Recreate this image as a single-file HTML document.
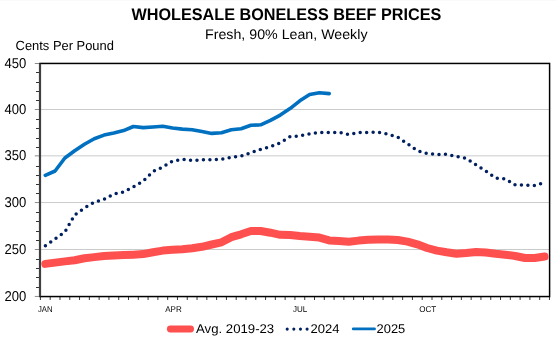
<!DOCTYPE html>
<html><head><meta charset="utf-8"><style>
html,body{margin:0;padding:0;background:#fff;width:556px;height:341px;overflow:hidden;font-family:"Liberation Sans", sans-serif;}
svg{display:block} text{text-rendering:geometricPrecision} .g{will-change:transform}
</style></head><body>
<svg width="556" height="341" viewBox="0 0 556 341">
<rect width="556" height="341" fill="#fff"/>
<rect x="0" y="0" width="556" height="1" fill="#FAFAFA"/>
<g class="g" opacity="0.999">
<line x1="40.0" y1="249.50" x2="549.6" y2="249.50" stroke="#CBCBCB" stroke-width="1"/>
<line x1="40.0" y1="202.55" x2="549.6" y2="202.55" stroke="#CBCBCB" stroke-width="1"/>
<line x1="40.0" y1="155.85" x2="549.6" y2="155.85" stroke="#CBCBCB" stroke-width="1"/>
<line x1="40.0" y1="109.50" x2="549.6" y2="109.50" stroke="#CBCBCB" stroke-width="1"/>
<line x1="34.8" y1="296.45" x2="40.0" y2="296.45" stroke="#8C8C8C" stroke-width="1"/>
<line x1="36" y1="287.50" x2="40.0" y2="287.50" stroke="#333" stroke-width="1"/>
<line x1="36" y1="277.50" x2="40.0" y2="277.50" stroke="#333" stroke-width="1"/>
<line x1="36" y1="268.50" x2="40.0" y2="268.50" stroke="#333" stroke-width="1"/>
<line x1="36" y1="259.50" x2="40.0" y2="259.50" stroke="#333" stroke-width="1"/>
<line x1="34.8" y1="249.50" x2="40.0" y2="249.50" stroke="#8C8C8C" stroke-width="1"/>
<line x1="36" y1="240.50" x2="40.0" y2="240.50" stroke="#333" stroke-width="1"/>
<line x1="36" y1="231.50" x2="40.0" y2="231.50" stroke="#333" stroke-width="1"/>
<line x1="36" y1="221.50" x2="40.0" y2="221.50" stroke="#333" stroke-width="1"/>
<line x1="36" y1="212.50" x2="40.0" y2="212.50" stroke="#333" stroke-width="1"/>
<line x1="34.8" y1="202.55" x2="40.0" y2="202.55" stroke="#8C8C8C" stroke-width="1"/>
<line x1="36" y1="193.50" x2="40.0" y2="193.50" stroke="#333" stroke-width="1"/>
<line x1="36" y1="184.50" x2="40.0" y2="184.50" stroke="#333" stroke-width="1"/>
<line x1="36" y1="175.50" x2="40.0" y2="175.50" stroke="#333" stroke-width="1"/>
<line x1="36" y1="166.50" x2="40.0" y2="166.50" stroke="#333" stroke-width="1"/>
<line x1="34.8" y1="155.85" x2="40.0" y2="155.85" stroke="#8C8C8C" stroke-width="1"/>
<line x1="36" y1="147.50" x2="40.0" y2="147.50" stroke="#333" stroke-width="1"/>
<line x1="36" y1="138.50" x2="40.0" y2="138.50" stroke="#333" stroke-width="1"/>
<line x1="36" y1="128.50" x2="40.0" y2="128.50" stroke="#333" stroke-width="1"/>
<line x1="36" y1="119.50" x2="40.0" y2="119.50" stroke="#333" stroke-width="1"/>
<line x1="34.8" y1="109.50" x2="40.0" y2="109.50" stroke="#8C8C8C" stroke-width="1"/>
<line x1="36" y1="100.50" x2="40.0" y2="100.50" stroke="#333" stroke-width="1"/>
<line x1="36" y1="91.50" x2="40.0" y2="91.50" stroke="#333" stroke-width="1"/>
<line x1="36" y1="82.50" x2="40.0" y2="82.50" stroke="#333" stroke-width="1"/>
<line x1="36" y1="72.50" x2="40.0" y2="72.50" stroke="#333" stroke-width="1"/>
<line x1="34.8" y1="63.50" x2="40.0" y2="63.50" stroke="#8C8C8C" stroke-width="1"/>
<line x1="40.40" y1="296.55" x2="40.40" y2="300" stroke="#3a3a3a" stroke-width="1"/>
<line x1="50.19" y1="296.55" x2="50.19" y2="300" stroke="#3a3a3a" stroke-width="1"/>
<line x1="59.98" y1="296.55" x2="59.98" y2="300" stroke="#3a3a3a" stroke-width="1"/>
<line x1="69.77" y1="296.55" x2="69.77" y2="300" stroke="#3a3a3a" stroke-width="1"/>
<line x1="79.56" y1="296.55" x2="79.56" y2="300" stroke="#3a3a3a" stroke-width="1"/>
<line x1="89.35" y1="296.55" x2="89.35" y2="300" stroke="#3a3a3a" stroke-width="1"/>
<line x1="99.14" y1="296.55" x2="99.14" y2="300" stroke="#3a3a3a" stroke-width="1"/>
<line x1="108.93" y1="296.55" x2="108.93" y2="300" stroke="#3a3a3a" stroke-width="1"/>
<line x1="118.72" y1="296.55" x2="118.72" y2="300" stroke="#3a3a3a" stroke-width="1"/>
<line x1="128.51" y1="296.55" x2="128.51" y2="300" stroke="#3a3a3a" stroke-width="1"/>
<line x1="138.30" y1="296.55" x2="138.30" y2="300" stroke="#3a3a3a" stroke-width="1"/>
<line x1="148.09" y1="296.55" x2="148.09" y2="300" stroke="#3a3a3a" stroke-width="1"/>
<line x1="157.88" y1="296.55" x2="157.88" y2="300" stroke="#3a3a3a" stroke-width="1"/>
<line x1="167.67" y1="296.55" x2="167.67" y2="300" stroke="#3a3a3a" stroke-width="1"/>
<line x1="177.46" y1="296.55" x2="177.46" y2="300" stroke="#3a3a3a" stroke-width="1"/>
<line x1="187.25" y1="296.55" x2="187.25" y2="300" stroke="#3a3a3a" stroke-width="1"/>
<line x1="197.04" y1="296.55" x2="197.04" y2="300" stroke="#3a3a3a" stroke-width="1"/>
<line x1="206.83" y1="296.55" x2="206.83" y2="300" stroke="#3a3a3a" stroke-width="1"/>
<line x1="216.62" y1="296.55" x2="216.62" y2="300" stroke="#3a3a3a" stroke-width="1"/>
<line x1="226.41" y1="296.55" x2="226.41" y2="300" stroke="#3a3a3a" stroke-width="1"/>
<line x1="236.20" y1="296.55" x2="236.20" y2="300" stroke="#3a3a3a" stroke-width="1"/>
<line x1="245.99" y1="296.55" x2="245.99" y2="300" stroke="#3a3a3a" stroke-width="1"/>
<line x1="255.78" y1="296.55" x2="255.78" y2="300" stroke="#3a3a3a" stroke-width="1"/>
<line x1="265.57" y1="296.55" x2="265.57" y2="300" stroke="#3a3a3a" stroke-width="1"/>
<line x1="275.36" y1="296.55" x2="275.36" y2="300" stroke="#3a3a3a" stroke-width="1"/>
<line x1="285.15" y1="296.55" x2="285.15" y2="300" stroke="#3a3a3a" stroke-width="1"/>
<line x1="294.94" y1="296.55" x2="294.94" y2="300" stroke="#3a3a3a" stroke-width="1"/>
<line x1="304.73" y1="296.55" x2="304.73" y2="300" stroke="#3a3a3a" stroke-width="1"/>
<line x1="314.52" y1="296.55" x2="314.52" y2="300" stroke="#3a3a3a" stroke-width="1"/>
<line x1="324.31" y1="296.55" x2="324.31" y2="300" stroke="#3a3a3a" stroke-width="1"/>
<line x1="334.10" y1="296.55" x2="334.10" y2="300" stroke="#3a3a3a" stroke-width="1"/>
<line x1="343.89" y1="296.55" x2="343.89" y2="300" stroke="#3a3a3a" stroke-width="1"/>
<line x1="353.68" y1="296.55" x2="353.68" y2="300" stroke="#3a3a3a" stroke-width="1"/>
<line x1="363.47" y1="296.55" x2="363.47" y2="300" stroke="#3a3a3a" stroke-width="1"/>
<line x1="373.26" y1="296.55" x2="373.26" y2="300" stroke="#3a3a3a" stroke-width="1"/>
<line x1="383.05" y1="296.55" x2="383.05" y2="300" stroke="#3a3a3a" stroke-width="1"/>
<line x1="392.84" y1="296.55" x2="392.84" y2="300" stroke="#3a3a3a" stroke-width="1"/>
<line x1="402.63" y1="296.55" x2="402.63" y2="300" stroke="#3a3a3a" stroke-width="1"/>
<line x1="412.42" y1="296.55" x2="412.42" y2="300" stroke="#3a3a3a" stroke-width="1"/>
<line x1="422.21" y1="296.55" x2="422.21" y2="300" stroke="#3a3a3a" stroke-width="1"/>
<line x1="432.00" y1="296.55" x2="432.00" y2="300" stroke="#3a3a3a" stroke-width="1"/>
<line x1="441.79" y1="296.55" x2="441.79" y2="300" stroke="#3a3a3a" stroke-width="1"/>
<line x1="451.58" y1="296.55" x2="451.58" y2="300" stroke="#3a3a3a" stroke-width="1"/>
<line x1="461.37" y1="296.55" x2="461.37" y2="300" stroke="#3a3a3a" stroke-width="1"/>
<line x1="471.16" y1="296.55" x2="471.16" y2="300" stroke="#3a3a3a" stroke-width="1"/>
<line x1="480.95" y1="296.55" x2="480.95" y2="300" stroke="#3a3a3a" stroke-width="1"/>
<line x1="490.74" y1="296.55" x2="490.74" y2="300" stroke="#3a3a3a" stroke-width="1"/>
<line x1="500.53" y1="296.55" x2="500.53" y2="300" stroke="#3a3a3a" stroke-width="1"/>
<line x1="510.32" y1="296.55" x2="510.32" y2="300" stroke="#3a3a3a" stroke-width="1"/>
<line x1="520.11" y1="296.55" x2="520.11" y2="300" stroke="#3a3a3a" stroke-width="1"/>
<line x1="529.90" y1="296.55" x2="529.90" y2="300" stroke="#3a3a3a" stroke-width="1"/>
<line x1="539.69" y1="296.55" x2="539.69" y2="300" stroke="#3a3a3a" stroke-width="1"/>
<line x1="549.48" y1="296.55" x2="549.48" y2="300" stroke="#3a3a3a" stroke-width="1"/>
<rect x="40.0" y="63.45" width="509.60" height="233.10" fill="none" stroke="#000" stroke-width="1.5"/>
<line x1="40.0" y1="63.65" x2="40.0" y2="296.35" stroke="#404040" stroke-width="2.2"/>
<polyline points="45.30,263.90 55.08,262.60 64.88,261.40 74.66,260.20 84.45,258.30 94.25,257.10 104.03,256.10 113.82,255.50 123.61,255.10 133.41,254.70 143.19,254.10 152.98,252.20 162.77,250.60 172.56,249.80 182.35,249.20 192.14,248.30 201.94,246.80 211.72,244.50 221.51,242.30 231.30,237.20 241.09,234.30 250.88,231.00 260.67,231.00 270.46,232.70 280.25,234.80 290.04,235.00 299.83,236.00 309.62,236.70 319.41,237.60 329.20,240.40 338.99,241.00 348.78,241.80 358.57,240.60 368.36,239.80 378.15,239.50 387.94,239.40 397.73,240.00 407.52,241.60 417.31,244.30 427.10,248.00 436.89,250.60 446.68,252.30 456.47,253.70 466.26,253.00 476.05,252.00 485.84,252.50 495.63,253.80 505.42,254.70 515.21,256.00 525.00,258.00 534.79,258.00 544.58,256.50" fill="none" stroke="#FF5050" stroke-width="8" stroke-linejoin="round" stroke-linecap="round"/>
<polyline points="45.30,245.80 55.08,239.00 64.88,232.00 74.66,215.00 84.45,208.00 94.25,202.30 104.03,199.30 113.82,194.00 123.61,192.00 133.41,186.80 143.19,181.00 152.98,171.50 162.77,167.00 172.56,161.00 182.35,159.40 192.14,160.50 201.94,159.80 211.72,159.60 221.51,159.30 231.30,157.30 241.09,156.00 250.88,152.70 260.67,149.40 270.46,146.70 280.25,142.80 290.04,136.70 299.83,135.80 309.62,134.00 319.41,132.40 329.20,132.50 338.99,132.30 348.78,134.50 358.57,132.60 368.36,132.40 378.15,132.30 387.94,134.20 397.73,137.20 407.52,143.80 417.31,150.70 427.10,153.50 436.89,154.60 446.68,154.30 456.47,156.50 466.26,158.30 476.05,164.80 485.84,171.00 495.63,178.00 505.42,179.00 515.21,185.00 525.00,185.00 534.79,185.50 544.58,182.50" fill="none" stroke="#002060" stroke-width="3.5" stroke-dasharray="0 6.47" stroke-dashoffset="-0.12" stroke-linejoin="round" stroke-linecap="round"/>
<polyline points="45.30,175.30 55.08,171.00 64.88,158.00 74.66,150.70 84.45,144.20 94.25,138.70 104.03,135.10 113.82,133.00 123.61,130.60 133.41,126.50 143.19,127.60 152.98,127.00 162.77,126.20 172.56,128.00 182.35,129.10 192.14,129.70 201.94,131.60 211.72,133.40 221.51,132.70 231.30,129.80 241.09,128.70 250.88,125.30 260.67,124.80 270.46,120.40 280.25,115.10 290.04,108.60 299.83,100.80 309.62,94.60 319.41,92.70 329.20,93.60" fill="none" stroke="#0070C0" stroke-width="3.6" stroke-linejoin="round" stroke-linecap="round"/>
<text x="131.4" y="20.1" font-family="Liberation Sans, sans-serif" font-size="16.9" font-weight="bold" fill="#000" text-anchor="start" textLength="310.0" lengthAdjust="spacingAndGlyphs">WHOLESALE BONELESS BEEF PRICES</text>
<text x="205.0" y="38.8" font-family="Liberation Sans, sans-serif" font-size="13.8" font-weight="normal" fill="#000" text-anchor="start" textLength="162.5" lengthAdjust="spacingAndGlyphs">Fresh, 90% Lean, Weekly</text>
<text x="15.6" y="50.4" font-family="Liberation Sans, sans-serif" font-size="13.2" font-weight="normal" fill="#000" text-anchor="start" textLength="98.3" lengthAdjust="spacingAndGlyphs">Cents Per Pound</text>
<text x="4.5" y="300.95" font-family="Liberation Sans, sans-serif" font-size="14.2" font-weight="normal" fill="#000" text-anchor="start" textLength="21.8" lengthAdjust="spacingAndGlyphs">200</text>
<text x="4.5" y="254.00" font-family="Liberation Sans, sans-serif" font-size="14.2" font-weight="normal" fill="#000" text-anchor="start" textLength="21.8" lengthAdjust="spacingAndGlyphs">250</text>
<text x="4.5" y="207.05" font-family="Liberation Sans, sans-serif" font-size="14.2" font-weight="normal" fill="#000" text-anchor="start" textLength="21.8" lengthAdjust="spacingAndGlyphs">300</text>
<text x="4.5" y="160.35" font-family="Liberation Sans, sans-serif" font-size="14.2" font-weight="normal" fill="#000" text-anchor="start" textLength="21.8" lengthAdjust="spacingAndGlyphs">350</text>
<text x="4.5" y="114.00" font-family="Liberation Sans, sans-serif" font-size="14.2" font-weight="normal" fill="#000" text-anchor="start" textLength="21.8" lengthAdjust="spacingAndGlyphs">400</text>
<text x="4.5" y="68.00" font-family="Liberation Sans, sans-serif" font-size="14.2" font-weight="normal" fill="#000" text-anchor="start" textLength="21.8" lengthAdjust="spacingAndGlyphs">450</text>
<text x="38.00" y="311.9" font-family="Liberation Sans, sans-serif" font-size="8.4" font-weight="normal" fill="#000" text-anchor="start" textLength="14.6" lengthAdjust="spacingAndGlyphs">JAN</text>
<text x="165.22" y="311.9" font-family="Liberation Sans, sans-serif" font-size="8.4" font-weight="normal" fill="#000" text-anchor="start" textLength="16.5" lengthAdjust="spacingAndGlyphs">APR</text>
<text x="292.88" y="311.9" font-family="Liberation Sans, sans-serif" font-size="8.4" font-weight="normal" fill="#000" text-anchor="start" textLength="14.3" lengthAdjust="spacingAndGlyphs">JUL</text>
<text x="419.20" y="311.9" font-family="Liberation Sans, sans-serif" font-size="8.4" font-weight="normal" fill="#000" text-anchor="start" textLength="17.0" lengthAdjust="spacingAndGlyphs">OCT</text>
<line x1="170.3" y1="329" x2="190.6" y2="329" stroke="#FF5050" stroke-width="6.8" stroke-linecap="round"/>
<text x="196.0" y="332.6" font-family="Liberation Sans, sans-serif" font-size="12.6" font-weight="normal" fill="#000" text-anchor="start" textLength="78.2" lengthAdjust="spacingAndGlyphs">Avg. 2019-23</text>
<line x1="287.2" y1="329.1" x2="307.2" y2="329.1" stroke="#002060" stroke-width="3.1" stroke-dasharray="0 6.63" stroke-linecap="round"/>
<text x="310.4" y="332.6" font-family="Liberation Sans, sans-serif" font-size="12.6" font-weight="normal" fill="#000" text-anchor="start" textLength="29.0" lengthAdjust="spacingAndGlyphs">2024</text>
<line x1="353.3" y1="328.9" x2="374.5" y2="328.9" stroke="#0070C0" stroke-width="2.9" stroke-linecap="round"/>
<text x="376.6" y="332.6" font-family="Liberation Sans, sans-serif" font-size="12.6" font-weight="normal" fill="#000" text-anchor="start" textLength="28.7" lengthAdjust="spacingAndGlyphs">2025</text>
</g>
</svg>
</body></html>
